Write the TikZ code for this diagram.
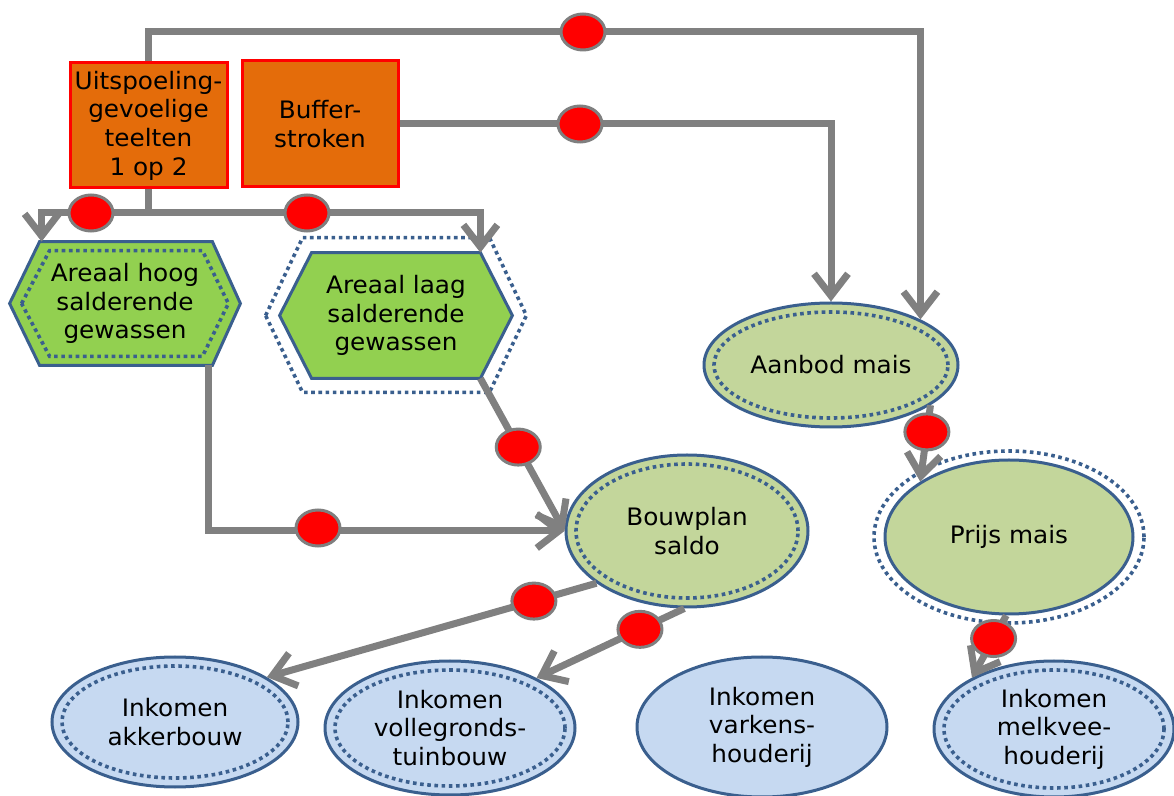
\documentclass[tikz,border=0pt]{standalone}
\usepackage{fontspec}
\setmainfont[FakeStretch=1.03]{DejaVu Sans}
\usetikzlibrary{arrows.meta,calc,shapes.geometric}
\definecolor{orng}{HTML}{E46C0A}
\definecolor{hexgreen}{HTML}{92D050}
\definecolor{ellgreen}{HTML}{C3D69B}
\definecolor{ellblue}{HTML}{C6D9F1}
\definecolor{bordblue}{HTML}{3A5F8E}
\definecolor{linegray}{HTML}{808080}
\definecolor{dotgray}{HTML}{7F7F7F}
\pgfdeclarelayer{bg}
\pgfsetlayers{bg,main}
\newcommand{\txtfont}{\fontsize{12}{14.3}\selectfont}
\begin{document}
\begin{tikzpicture}[x=0.5pt,y=-0.5pt,
  conn/.style={draw=linegray,line width=3.5pt,-{Straight Barb[length=11pt,width=17pt]}},
  reddot/.style={ellipse,fill=red,draw=dotgray,line width=1.5pt,minimum width=22pt,minimum height=18pt,inner sep=0pt},
  box/.style={rectangle,fill=orng,draw=red,line width=1.5pt,align=center,font=\txtfont,inner sep=0pt},
  hexbox/.style={rectangle,align=center,font=\txtfont,inner sep=0pt},
  hexfill/.style={fill=hexgreen,draw=bordblue,line width=1.5pt,line join=miter},
  dotline/.style={draw=bordblue,line width=1.8pt,dash pattern=on 1.8pt off 1.8pt},
  greenell/.style={ellipse,fill=ellgreen,draw=bordblue,line width=1.5pt,align=center,font=\txtfont,inner sep=0pt},
  blueell/.style={ellipse,fill=ellblue,draw=bordblue,line width=1.5pt,align=center,font=\txtfont,inner sep=0pt}
]
\useasboundingbox (0,0) rectangle (1174,796);

% boxes
\node[box,minimum width=78.5pt,minimum height=62.5pt] (u) at (148.5,125.5) {Uitspoeling-\\gevoelige\\teelten\\1 op 2};
\node[box,minimum width=78pt,minimum height=63pt] (b) at (320,124) {Buffer-\\stroken};

% hexagons
\node[hexbox,minimum width=115pt,minimum height=61.5pt] (h1) at (125,303.5) {Areaal hoog\\salderende\\gewassen};
\node[hexbox,minimum width=116pt,minimum height=62.5pt] (h2) at (396,315.5) {Areaal laag\\salderende\\gewassen};
\begin{pgfonlayer}{bg}
\filldraw[hexfill] (h1.west) -- ($(h1.north west)+(30,0)$) -- ($(h1.north east)+(-28,0)$) -- (h1.east)
  -- ($(h1.south east)+(-28,0)$) -- ($(h1.south west)+(30,0)$) -- cycle;
\draw[dotline] ($(h1.west)+(12,0)$) -- ($(h1.north west)+(40,9)$) -- ($(h1.north east)+(-38,9)$) -- ($(h1.east)+(-12,0)$)
  -- ($(h1.south east)+(-38,-9)$) -- ($(h1.south west)+(40,-9)$) -- cycle;
\draw[dotline] ($(h2.west)+(-14,0)$) -- ($(h2.north west)+(23,-15)$) -- ($(h2.north east)+(-23,-15)$) -- ($(h2.east)+(14,0)$)
  -- ($(h2.south east)+(-23,14)$) -- ($(h2.south west)+(23,14)$) -- cycle;
\filldraw[hexfill] (h2.west) -- ($(h2.north west)+(32,0)$) -- ($(h2.north east)+(-32,0)$) -- (h2.east)
  -- ($(h2.south east)+(-32,0)$) -- ($(h2.south west)+(32,0)$) -- cycle;
\end{pgfonlayer}

% ellipses
\node[greenell,minimum width=127pt,minimum height=62pt] (am) at (831,365) {Aanbod mais};
\node[greenell,minimum width=121pt,minimum height=76pt] (bp) at (687,531) {Bouwplan\\saldo};
\node[greenell,minimum width=124pt,minimum height=77pt] (pm) at (1009,537) {Prijs mais};
\node[blueell,minimum width=123pt,minimum height=65pt] (ia) at (175,722) {Inkomen\\akkerbouw};
\node[blueell,minimum width=125pt,minimum height=67pt] (iv) at (450,728) {Inkomen\\vollegronds-\\tuinbouw};
\node[blueell,minimum width=125pt,minimum height=70pt] (ih) at (762,727) {Inkomen\\varkens-\\houderij};
\node[blueell,minimum width=120pt,minimum height=68pt] (im) at (1054,729) {Inkomen\\melkvee-\\houderij};

\draw[dotline] (am.center) ellipse [x radius=58.5pt, y radius=26.5pt];
\draw[dotline] (bp.center) ellipse [x radius=55.5pt, y radius=33.5pt];
\draw[dotline] (ia.center) ellipse [x radius=56.5pt, y radius=28pt];
\draw[dotline] (iv.center) ellipse [x radius=57.5pt, y radius=29pt];
\draw[dotline] (im.center) ellipse [x radius=55pt, y radius=29.5pt];
\begin{pgfonlayer}{bg}
\draw[dotline] (pm.center) ellipse [x radius=67.5pt, y radius=43pt];
\end{pgfonlayer}

% connector end points
\coordinate (j) at (0,213);
\coordinate (h1in) at ($(h1.north west)+(32,0)$);
\coordinate (h2in) at ($(h2.north east)+(-32,0)$);
\coordinate (h1out) at ($(h1.south east)+(-32,0)$);
\coordinate (h2out) at ($(h2.south east)+(-32,0)$);
\coordinate (top) at (0,32);

% connectors
\draw[conn] (u.north) |- (am.27 |- top) -- (am.27);
\draw[conn] (b.east) -| (am.north);
\draw[conn] (u.south) |- (h1in |- j) -- (h1in);
\draw[conn] (u.south) |- (h2in |- j) -- (h2in);
\draw[conn] (h1out) |- (bp.west);
\draw[conn] (h2out) -- (bp.west);
\draw[conn] (am.-22) -- (pm.148);
\draw[conn] (pm.-92) -- (im.148);
\draw[conn] (bp.210) -- (ia.26);
\draw[conn] (bp.-92) -- (iv.30);

% red dots
\node[reddot] (d1) at (583,32) {};
\node[reddot] (d2) at (580,124) {};
\node[reddot] (d3) at (91,213) {};
\node[reddot] (d4) at (307,213) {};
\node[reddot] (d5) at (318,528) {};
\node[reddot] (d6) at ($(h2out)!0.45!(bp.west)$) {};
\node[reddot] (d7) at ($(am.-22)!0.35!(pm.148)$) {};
\node[reddot] (d8) at ($(pm.-92)!0.37!(im.148)$) {};
\node[reddot] (d9) at ($(bp.210)!0.19!(ia.26)$) {};
\node[reddot] (d10) at ($(bp.-92)!0.3!(iv.30)$) {};
\end{tikzpicture}
\end{document}
